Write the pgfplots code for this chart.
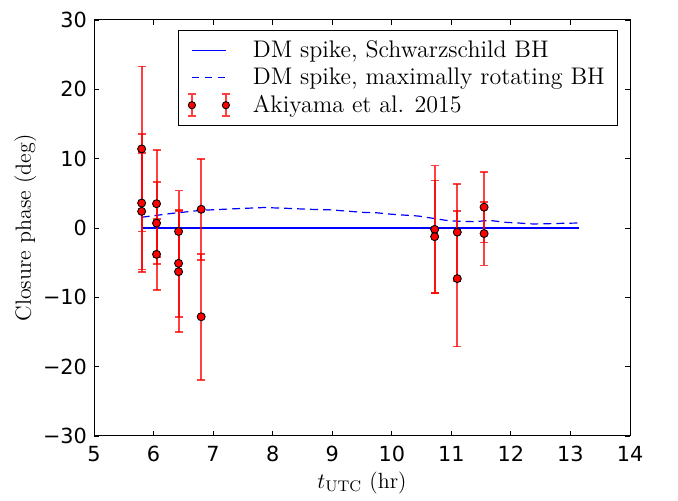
\documentclass[border=0pt]{standalone}
\usepackage{pgfplots}
\pgfplotsset{compat=1.18}
\usepackage{fontspec}
\newfontfamily\dejavu{DejaVu Sans}
\begin{document}
\begin{tikzpicture}
\begin{axis}[
  at={(0,0)}, anchor=south west,
  scale only axis, width=268pt, height=208pt,
  xmin=5, xmax=14, ymin=-30, ymax=30,
  xtick={5,6,7,8,9,10,11,12,13,14},
  xticklabels={5,6,7,8,9,10,11,12,13,14},
  ytick={-30,-20,-10,0,10,20,30},
  yticklabels={−30,−20,−10,0,10,20,30},
  tick align=inside, major tick length=2.4pt,
  tick style={black, line width=0.4pt},
  axis line style={line width=0.5pt},
  ticklabel style={font=\dejavu\fontsize{10.4}{12}\selectfont},
  xticklabel style={yshift=-1.5pt},
  /pgf/number format/assume math mode=true,
  label style={font=\fontsize{11}{13}\selectfont},
  xlabel={$t_{\rm UTC}$ (hr)},
  ylabel={Closure phase (deg)},
  xlabel style={yshift=2pt},
  ylabel style={yshift=-3.5pt},
  legend cell align=left,
  legend style={at={(0.978,0.976)}, anchor=north east, draw=black,
    font=\fontsize{12}{14}\selectfont, row sep=-0.2pt, inner xsep=4.5pt, inner ysep=3pt,
    /tikz/every odd column/.append style={column sep=9pt}},
]
\addplot[blue, line width=0.6pt,
  legend image code/.code={\color{blue}\draw[draw=blue, line width=0.6pt] (0pt,0pt) -- (17pt,0pt);}]
  coordinates {(5.8,0) (13.15,0)};
\addlegendentry{DM spike, Schwarzschild BH}
\addplot[blue, line width=0.6pt, dash pattern=on 4pt off 2.5pt,
  legend image code/.code={\color{blue}\draw[draw=blue, line width=0.7pt, dash pattern=on 3.5pt off 3pt] (0pt,0pt) -- (17pt,0pt);}]
  coordinates {
(5.8,1.55) (6.3,2.1) (6.8,2.55) (7.3,2.75) (7.85,2.95) (8.2,2.85) (8.6,2.7)
(8.96,2.62) (9.3,2.4) (9.52,2.25) (9.74,2.2) (9.97,2.0) (10.19,1.87) (10.44,1.73)
(10.69,1.4) (10.95,1.05) (11.17,0.96) (11.39,0.91) (11.64,1.1) (11.9,0.82)
(12.12,0.72) (12.37,0.58) (12.62,0.62) (12.85,0.67) (13.15,0.72)};
\addlegendentry{DM spike, maximally rotating BH}
\addplot[only marks, mark=*, mark size=2pt,
  mark options={fill=red, draw=black, line width=0.45pt},
  error bars/.cd, y dir=both, y explicit,
  error bar style={red, draw opacity=0.75, line width=1pt},
  error mark options={rotate=90, red, draw opacity=0.75, mark size=2pt, line width=0.9pt},
  /pgfplots/legend image code/.code={
  \draw[draw=red, draw opacity=0.75, line width=0.9pt] (0pt,-5.5pt) -- (0pt,5.5pt)
     (-2pt,-5.5pt) -- (2pt,-5.5pt) (-2pt,5.5pt) -- (2pt,5.5pt)
     (17pt,-5.5pt) -- (17pt,5.5pt)
     (15pt,-5.5pt) -- (19pt,-5.5pt) (15pt,5.5pt) -- (19pt,5.5pt);
  \filldraw[fill=red, draw=black, line width=0.45pt] (0pt,0pt) circle (1.8pt) (17pt,0pt) circle (1.8pt);
  },
  ] table[x=x, y=y, y error=e] {
x y e
5.8 11.4 11.9
5.8 3.6 10.0
5.8 2.4 8.4
6.05 3.5 7.7
6.05 0.7 5.9
6.05 -3.8 5.1
6.42 -0.5 5.9
6.42 -5.1 7.7
6.42 -6.3 8.7
6.8 2.7 7.3
6.8 -12.8 9.1
10.72 -0.2 9.2
10.72 -1.25 8.1
11.1 -0.6 7.0
11.1 -7.3 9.8
11.55 3.0 5.1
11.55 -0.8 4.6
};
\addlegendentry{Akiyama et al. 2015}
\end{axis}
\path[use as bounding box] (-47pt,-30pt) rectangle (292pt,218pt);
\end{tikzpicture}
\end{document}
